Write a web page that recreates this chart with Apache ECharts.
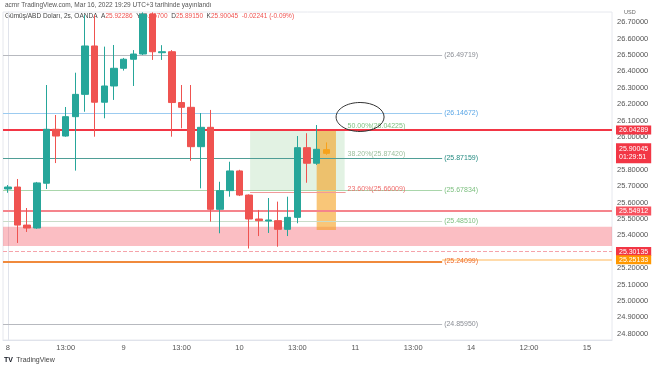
<!DOCTYPE html>
<html><head><meta charset="utf-8">
<script src="https://cdn.jsdelivr.net/npm/echarts@6/dist/echarts.min.js"></script>
<style>html,body{margin:0;padding:0;background:#fff}#c{width:654px;height:366px}</style>
</head><body><div id="c"></div>
<script>
// 2h candles, index 0 = Mar 8 first bar
const candleOpen  = [25.683,25.695,25.463,25.445,25.718,26.047,26.006,26.124,26.260,26.555,26.212,26.311,26.419,26.474,26.506,26.750,26.514,26.520,26.210,26.181,25.941,26.059,25.559,25.673,25.793,25.646,25.500,25.488,25.490,25.437,25.510,25.935,25.840,25.92286];
const candleClose = [25.695,25.463,25.445,25.720,26.047,26.006,26.124,26.260,26.555,26.212,26.311,26.419,26.474,26.506,26.750,26.520,26.520,26.210,26.181,25.941,26.059,25.559,25.673,25.793,25.646,25.500,25.490,25.494,25.437,25.510,25.935,25.840,25.925,25.90045];
const candleLow   = [25.660,25.354,25.421,25.440,25.683,25.841,26.002,25.795,26.154,26.002,26.114,26.226,26.405,26.311,26.500,26.470,26.470,26.002,26.053,25.855,25.687,25.484,25.413,25.636,25.640,25.320,25.396,25.415,25.331,25.396,25.474,25.721,25.830,25.89150];
const candleHigh  = [25.707,25.744,25.567,25.726,26.317,26.134,26.183,26.392,26.744,26.744,26.551,26.561,26.482,26.530,26.760,26.760,26.560,26.530,26.317,26.317,26.146,26.165,25.727,25.849,25.800,25.650,25.555,25.628,25.606,25.636,26.006,26.023,26.073,25.96700];
const replayIndex = 33;

const tickIndex = [0,6,12,18,24,30,36,42,48,54,60];
const tickText  = ["8","13:00","9","13:00","10","13:00","11","13:00","14","12:00","15"];
const priceTicks = [24.8,24.9,25.0,25.1,25.2,25.3,25.4,25.5,25.6,25.7,25.8,25.9,26.0,26.1,26.2,26.3,26.4,26.5,26.6,26.7];

// pivot levels (drawn to index 45)
const pivotValues = [26.49719,26.14672,25.87159,25.67834,25.48510,25.24099,24.85950];
const pivotColors = ['#b7b9bf','#9ccbf0','#4f9e96','#a9d6ab','#c9dcc9','#f08a3c','#b7b9bf'];
const pivotTextColors = ['#8a8d94','#5aa6e6','#238a80','#7cbf7f','#7cbf7f','#ef6c2c','#8a8d94'];
const pivotWidths = [1,1,1,1,1,2,1];

// fibonacci retracement
const fibValues = [26.04225,25.87420,25.66009];
const fibText = ['50.00%(26.04225)','38.20%(25.87420)','23.60%(25.66009)'];
const fibColors = ['#7cbf7f','#9bbf9b','#ef6b6b'];
const fibLineColors = ['rgba(0,0,0,0)','rgba(0,0,0,0)','#f19a9a'];

// full-width price lines with axis tags
const tagValues = [26.04289,25.54912,25.30135,25.25133];
const tagColors = ['#f23645','#f7525f','#f23645','#ff9800'];
const lineColors = ['#f23645','#f5848c','#f5a3aa','#ffcf8f'];
const lineWidths = [2,2,1,1.5];
const lineTypes = ['solid','solid','dashed','solid'];
const lastPrice = 25.90045, countdown = '01:29:51';

const zonePink = [25.335,25.453];
const boxGreen = {x:[25.1,34.9], y:[25.677,26.043]};
const boxOrange = {x:[32.0,34.0], y:[25.433,26.043]};

const xMin=-0.5, xMax=62.6, yMin=24.7622, yMax=26.7622;

const candleData = candleOpen.map((o,i)=>{
  const item = {value:[i,o,candleClose[i],candleLow[i],candleHigh[i]]};
  if(i===replayIndex){item.itemStyle={color:'#f7a21b',color0:'#f7a21b',borderColor:'#f7a21b',borderColor0:'#f7a21b'};}
  return item;
});

const markLines = [];
pivotValues.forEach((v,i)=>{
  markLines.push([{coord:[xMin,v],lineStyle:{color:pivotColors[i],width:pivotWidths[i],type:'solid'},
    label:{show:true,position:'end',distance:2,formatter:'('+v.toFixed(5)+')',color:pivotTextColors[i],fontSize:7}},{coord:[45,v]}]);
});
fibValues.forEach((v,i)=>{
  markLines.push([{coord:[boxGreen.x[0],v],lineStyle:{color:fibLineColors[i],width:1,type:'solid'},
    label:{show:true,position:'end',distance:2,formatter:fibText[i],color:fibColors[i],fontSize:7,offset:[0,-4]}},{coord:[35,v]}]);
});
tagValues.forEach((v,i)=>{
  markLines.push([{coord:[i===3?45:xMin,v],lineStyle:{color:lineColors[i],width:lineWidths[i],type:lineTypes[i]},
    label:{show:true,position:'end',distance:4,formatter:v.toFixed(5),color:'#fff',backgroundColor:tagColors[i],padding:[1,3],fontSize:7}},{coord:[xMax,v]}]);
});
markLines.push([{coord:[xMin,lastPrice],lineStyle:{color:'rgba(0,0,0,0)',type:'solid'},
  label:{show:true,position:'end',distance:4,formatter:lastPrice.toFixed(5)+'\n'+countdown,color:'#fff',backgroundColor:'#f23645',padding:[2,3],fontSize:7,lineHeight:8}},{coord:[xMax,lastPrice]}]);

const chart = echarts.init(document.getElementById('c'),null,{renderer:'canvas'});
chart.setOption({
  animation:false,
  backgroundColor:'#fff',
  grid:{left:3,right:42,top:12,bottom:26,show:true,borderColor:'#e6e8ee',borderWidth:1},
  xAxis:{type:'value',min:xMin,max:xMax,
    axisLine:{show:true,lineStyle:{color:'#e0e3eb'}},axisTick:{show:false},splitLine:{show:false},
    axisLabel:{customValues:tickIndex,formatter:(v)=>tickText[tickIndex.indexOf(Math.round(v))]||'',color:'#555',fontSize:7.5,margin:4}},
  yAxis:{type:'value',position:'right',min:yMin,max:yMax,scale:true,
    axisLine:{show:true,lineStyle:{color:'#e0e3eb'}},axisTick:{show:false},splitLine:{show:false},
    axisLabel:{customValues:priceTicks,formatter:(v)=>v.toFixed(5),color:'#555',fontSize:7.5,margin:5}},
  series:[
    {type:'line',data:[],z:1,silent:true,
     markArea:{silent:true,data:[
       [{coord:[xMin,zonePink[0]],itemStyle:{color:'rgba(242,54,69,0.32)'}},{coord:[xMax,zonePink[1]]}],
       [{coord:[boxGreen.x[0],boxGreen.y[0]],itemStyle:{color:'rgba(76,175,80,0.16)'}},{coord:[boxGreen.x[1],boxGreen.y[1]]}],
       [{coord:[boxOrange.x[0],boxOrange.y[0]],itemStyle:{color:'rgba(245,160,30,0.6)'}},{coord:[boxOrange.x[1],boxOrange.y[1]]}]
     ]}},
    {type:'line',data:[],z:2,silent:true,clip:false,
     markLine:{silent:true,symbol:['none','none'],data:markLines}},
    {type:'candlestick',z:5,barWidth:7,data:candleData,
     itemStyle:{color:'#26a69a',color0:'#ef5350',borderColor:'#26a69a',borderColor0:'#ef5350',borderWidth:1}}
  ]
});

const c = chart.convertToPixel({gridIndex:0},[36.5,26.122]);
chart.setOption({graphic:[
  {type:'ellipse',shape:{cx:c[0],cy:c[1],rx:24,ry:14.5},style:{fill:'none',stroke:'#333',lineWidth:1},z:10},
  {type:'text',left:5,top:2,z:0,style:{text:'acmr TradingView.com, Mar 16, 2022 19:29 UTC+3 tarihinde yayınlandı',fill:'#555',font:'6.5px "Liberation Sans", Arial'}},
  {type:'text',left:5,top:13,z:0,style:{
    text:'{n|Gümüş/ABD Doları, 2s, OANDA  }{l|A}{r|25.92286}{l|  Y}{r|25.96700}{l|  D}{r|25.89150}{l|  K}{r|25.90045  -0.02241 (-0.09%)}',
    rich:{n:{fill:'#444',fontSize:6.5},l:{fill:'#444',fontSize:6.5},r:{fill:'#ef5350',fontSize:6.5}},fontSize:6.5}},
  {type:'text',left:622,top:8,z:20,style:{text:'USD',fill:'#666',fontSize:5.5,backgroundColor:'#fff',padding:[1,2],borderRadius:2}},
  {type:'text',left:4,top:354,z:0,style:{text:'{t|TV} {w|TradingView}',rich:{t:{fontSize:7,fontWeight:'bold',fill:'#131722'},w:{fontSize:7,fill:'#444'}}}}
]});
</script></body></html>
